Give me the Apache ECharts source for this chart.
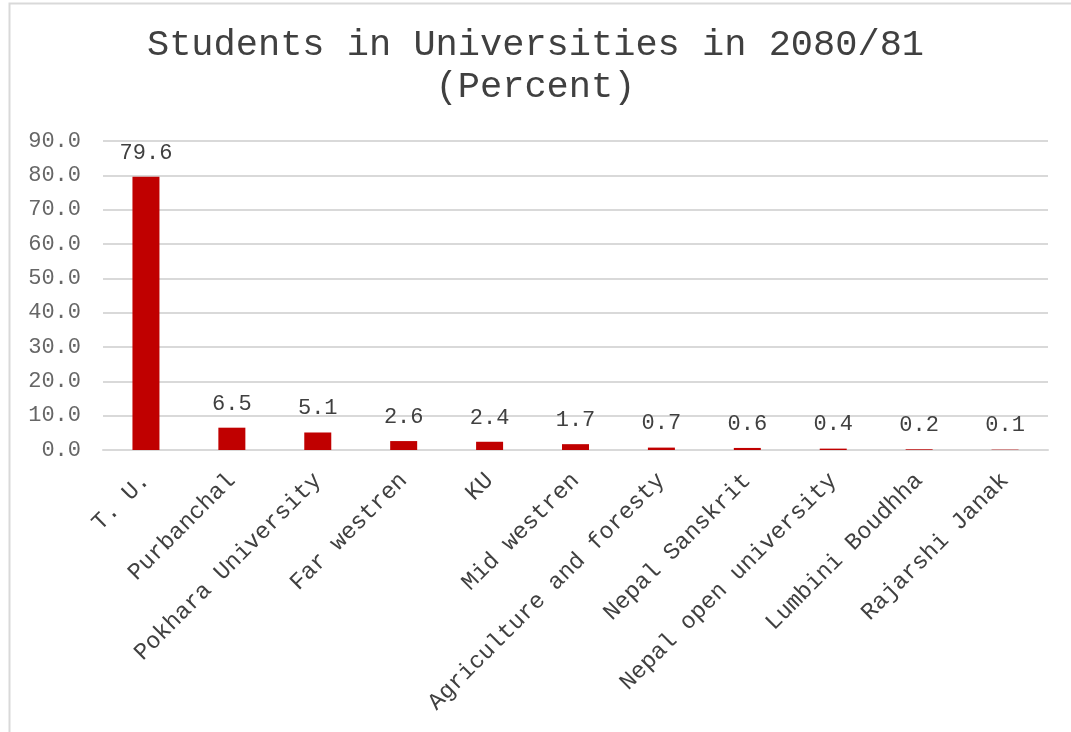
<!DOCTYPE html>
<html>
<head>
<meta charset="utf-8">
<script src="https://cdn.jsdelivr.net/npm/echarts@6/dist/echarts.min.js"></script>
<style>html,body{margin:0;padding:0;background:#fff}#c{width:1071px;height:732px}</style>
</head>
<body>
<div id="c"></div>
<script>
const categories = ["T. U.", "Purbanchal", "Pokhara University", "Far westren", "KU", "Mid westren", "Agriculture and foresty", "Nepal Sanskrit", "Nepal open university", "Lumbini Boudhha", "Rajarshi Janak"];
const values = [79.6, 6.5, 5.1, 2.6, 2.4, 1.7, 0.7, 0.6, 0.4, 0.2, 0.1];
const titleText = "Students in Universities in 2080/81\n(Percent)";
const font = "'Liberation Mono', 'Courier New', monospace";

const chart = echarts.init(document.getElementById('c'), null, {renderer: 'canvas'});
chart.setOption({
  animation: false,
  backgroundColor: '#fff',
  graphic: [{
    type: 'rect', left: 7, top: 1,
    shape: {width: 1200, height: 900},
    style: {fill: 'none', stroke: '#d9d9d9', lineWidth: 2}
  }],
  title: {
    text: titleText, left: 'center', top: 19,
    textStyle: {fontFamily: font, fontSize: 37, fontWeight: 'normal', color: '#404040', lineHeight: 42}
  },
  grid: {left: 103, right: 23, top: 141, bottom: 282},
  xAxis: {
    type: 'category', data: categories,
    axisLine: {lineStyle: {color: '#d9d9d9', width: 2}},
    axisTick: {show: false},
    axisLabel: {interval: 0, rotate: 45, margin: 27, fontFamily: font, fontSize: 23.5, color: '#404040'}
  },
  yAxis: {
    type: 'value', min: 0, max: 90, interval: 10,
    axisLine: {show: false}, axisTick: {show: false},
    splitLine: {lineStyle: {color: '#d9d9d9', width: 2}},
    axisLabel: {margin: 22, fontFamily: font, fontSize: 22, color: '#666666', formatter: v => v.toFixed(1)}
  },
  series: [{
    type: 'bar', data: values, barWidth: 27,
    itemStyle: {color: '#C00000'},
    label: {show: true, position: 'top', distance: 13, fontFamily: font, fontSize: 22, color: '#404040', formatter: p => p.value.toFixed(1)}
  }]
});
</script>
</body>
</html>
